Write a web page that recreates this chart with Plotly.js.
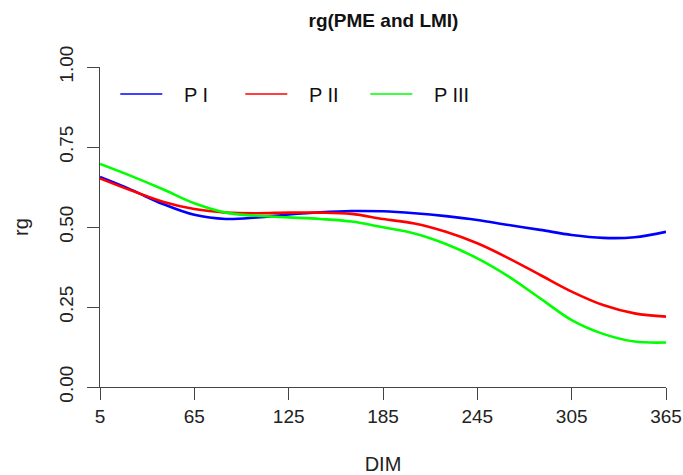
<!DOCTYPE html>
<html>
<head>
<meta charset="utf-8">
<script src="https://cdn.plot.ly/plotly-3.0.1.min.js"></script>
<style>html,body{margin:0;padding:0;background:#fff;}#chart{width:683px;height:475px;}</style>
</head>
<body>
<div id="chart"></div>
<script>
// DIM values (x)
const dim = [5, 25, 45, 65, 85, 105, 125, 145, 165, 185, 205, 225, 245, 265, 285, 305, 325, 345, 365];
// rg for each series
const pI   = [0.656, 0.616, 0.572, 0.538, 0.525, 0.530, 0.539, 0.546, 0.550, 0.549, 0.543, 0.534, 0.522, 0.506, 0.491, 0.475, 0.466, 0.468, 0.485];
const pII  = [0.652, 0.614, 0.579, 0.556, 0.545, 0.543, 0.545, 0.545, 0.541, 0.525, 0.511, 0.485, 0.449, 0.402, 0.350, 0.298, 0.256, 0.230, 0.220];
const pIII = [0.697, 0.659, 0.618, 0.574, 0.545, 0.535, 0.530, 0.525, 0.517, 0.499, 0.480, 0.447, 0.402, 0.345, 0.277, 0.209, 0.166, 0.142, 0.139];
const seriesNames = ["P I", "P II", "P III"];
const seriesColors = ["#0000FF", "#FF0000", "#00FF00"];
const xTicks = [5, 65, 125, 185, 245, 305, 365];
const yTicks = [0, 0.25, 0.5, 0.75, 1.0];
const yTickLabels = ["0.00", "0.25", "0.50", "0.75", "1.00"];

const ys = [pI, pII, pIII];
const traces = [];
ys.forEach((y, i) => {
  traces.push({
    x: dim, y: y, type: "scatter", mode: "lines",
    line: {color: seriesColors[i], width: 2.6, shape: "spline", smoothing: 1},
    showlegend: false, hoverinfo: "skip"
  });
});
// legend entries with thin lines, as in the reference
ys.forEach((y, i) => {
  traces.push({
    x: [null], y: [null], type: "scatter", mode: "lines",
    name: "\u00A0\u00A0\u00A0" + seriesNames[i],
    line: {color: seriesColors[i], width: 1.5}, showlegend: true
  });
});

const font = "Liberation Sans, Arial, sans-serif";
const layout = {
  width: 683, height: 475,
  margin: {l: 100, r: 17, t: 67, b: 88, pad: 0},
  paper_bgcolor: "#fff", plot_bgcolor: "#fff",
  font: {family: font, size: 18, color: "#222"},
  title: {text: "<b>rg(PME and LMI)</b>", x: 383.5/683, xanchor: "center", y: 1 - 20/475, yanchor: "middle",
          font: {family: font, size: 19, color: "#111"}},
  xaxis: {
    range: [5, 365], tickvals: xTicks, ticktext: xTicks.map(String),
    showgrid: false, zeroline: false, showline: true, linecolor: "#444", linewidth: 1,
    ticks: "outside", ticklen: 12, tickcolor: "#444", tickwidth: 1,
    ticklabelstandoff: 0,
    tickfont: {family: font, size: 19, color: "#222"},
    title: {text: "DIM", font: {family: font, size: 20, color: "#222"}, standoff: 40}
  },
  yaxis: {
    range: [0, 1], tickvals: yTicks, ticktext: yTickLabels, tickangle: -90,
    showgrid: false, zeroline: false, showline: true, linecolor: "#444", linewidth: 1,
    ticks: "outside", ticklen: 12, tickcolor: "#444", tickwidth: 1,
    ticklabelstandoff: 6,
    tickfont: {family: font, size: 19, color: "#222"},
    title: {text: "rg", font: {family: font, size: 20, color: "#222"}, standoff: 22}
  },
  legend: {
    orientation: "h", x: 0.027, xanchor: "left", y: (387 - 94) / 320, yanchor: "middle",
    bgcolor: "rgba(0,0,0,0)", borderwidth: 0,
    font: {family: font, size: 20, color: "#111"},
    entrywidth: 68, entrywidthmode: "pixels", itemwidth: 42
  }
};
Plotly.newPlot("chart", traces, layout, {displayModeBar: false, staticPlot: true});
</script>
</body>
</html>
